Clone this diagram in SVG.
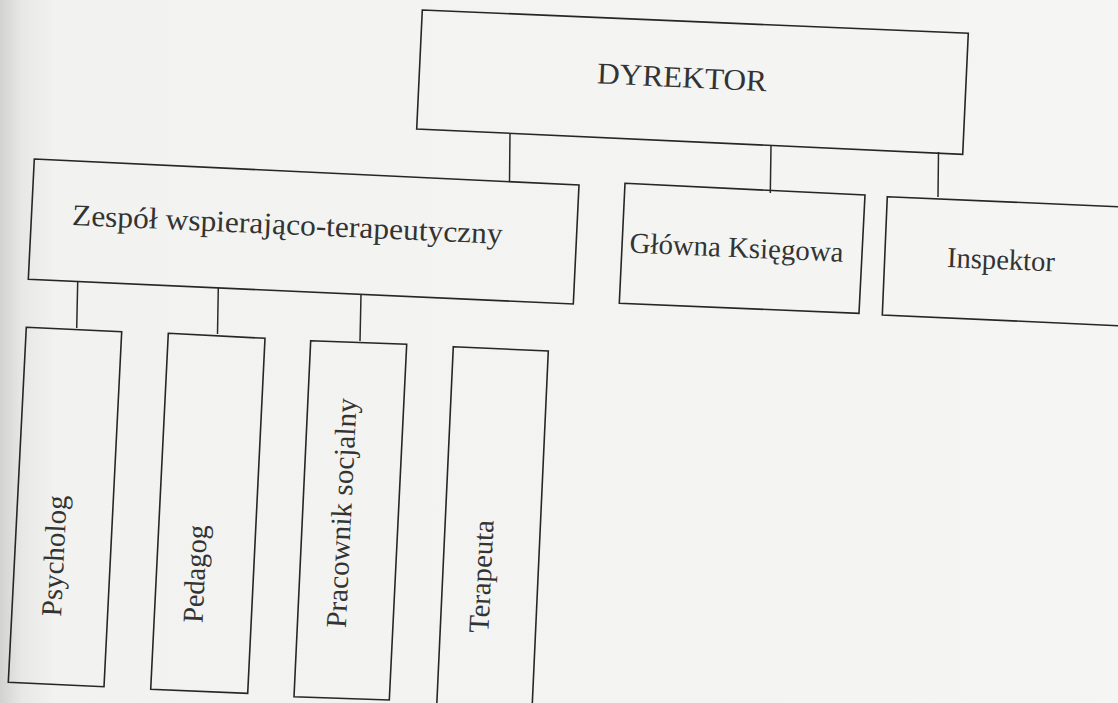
<svg xmlns="http://www.w3.org/2000/svg" width="1118" height="703" viewBox="0 0 1118 703">
  <defs>
    <linearGradient id="bg" x1="0" y1="0" x2="1" y2="0">
      <stop offset="0" stop-color="#d2d2d0"/>
      <stop offset="0.02" stop-color="#e8e8e6"/>
      <stop offset="0.05" stop-color="#f2f3f0"/>
      <stop offset="1" stop-color="#f5f6f3"/>
    </linearGradient>
  </defs>
  <style>
    .box { fill: none; stroke: #262626; stroke-width: 1.6; stroke-linejoin: miter; }
    .conn line { stroke: #2a2a2a; stroke-width: 1.5; }
    text { fill: #333333; }
  </style>
  <rect x="0" y="0" width="1118" height="703" fill="url(#bg)"/>

  <g id="connectors" class="conn">
    <line x1="510" y1="133" x2="509.5" y2="181"/>
    <line x1="771" y1="146" x2="770.3" y2="193"/>
    <line x1="938.5" y1="152" x2="938" y2="197"/>
    <line x1="77.7" y1="281.5" x2="76.7" y2="328"/>
    <line x1="218.3" y1="288" x2="217.5" y2="334"/>
    <line x1="361" y1="294.5" x2="360" y2="341"/>
  </g>

  <g font-family="Liberation Serif, DejaVu Serif, serif" font-size="29">
  <g id="dyrektor">
    <polygon class="box" points="422.3,10 968.3,33.3 962.7,154.3 416.7,129"/>
    <text style="font-family: 'Liberation Serif', serif; font-size: 30px" x="596.7" y="83.3" transform="rotate(2.7 596.7 83.3)" textLength="170" lengthAdjust="spacingAndGlyphs">DYREKTOR</text>
  </g>

  <g id="zespol">
    <polygon class="box" points="34.3,159 579,185 573.3,304 28.3,279.3"/>
    <text font-size="30" x="71.7" y="225" transform="rotate(2.5 71.7 225)" textLength="431" lengthAdjust="spacingAndGlyphs">Zespół wspierająco-terapeutyczny</text>
  </g>

  <g id="glowna">
    <polygon class="box" points="625,183.3 865,195 859,313.3 619.3,303.3"/>
    <text x="629.3" y="252.5" transform="rotate(2.5 629.3 252.5)" textLength="214" lengthAdjust="spacingAndGlyphs">Główna Księgowa</text>
  </g>

  <g id="inspektor">
    <polygon class="box" points="887.3,196.7 1130,207.3 1125,326 882.3,315"/>
    <text x="946.7" y="267" transform="rotate(2.3 946.7 267)" textLength="108" lengthAdjust="spacingAndGlyphs">Inspektor</text>
  </g>

  <g id="psycholog">
    <polygon class="box" points="26.3,327.3 121.7,331.7 104,686.7 8.3,682.3"/>
    <text x="61" y="616.7" transform="rotate(-87.3 61 616.7)" textLength="121" lengthAdjust="spacingAndGlyphs">Psycholog</text>
  </g>

  <g id="pedagog">
    <polygon class="box" points="168.3,333.3 265,338.3 247.7,693.3 150.7,689.3"/>
    <text x="202.5" y="623.3" transform="rotate(-87.3 202.5 623.3)" textLength="98" lengthAdjust="spacingAndGlyphs">Pedagog</text>
  </g>

  <g id="pracownik">
    <polygon class="box" points="310.7,340.7 406.7,344.3 389.3,700 294,696.7"/>
    <text x="345.7" y="628.3" transform="rotate(-87.3 345.7 628.3)" textLength="230" lengthAdjust="spacingAndGlyphs">Pracownik socjalny</text>
  </g>

  <g id="terapeuta">
    <polygon class="box" points="453.3,346.7 548.3,351 532,710 436.7,706"/>
    <text x="488.3" y="633.3" transform="rotate(-87.3 488.3 633.3)" textLength="113" lengthAdjust="spacingAndGlyphs">Terapeuta</text>
  </g>
  </g>
</svg>
